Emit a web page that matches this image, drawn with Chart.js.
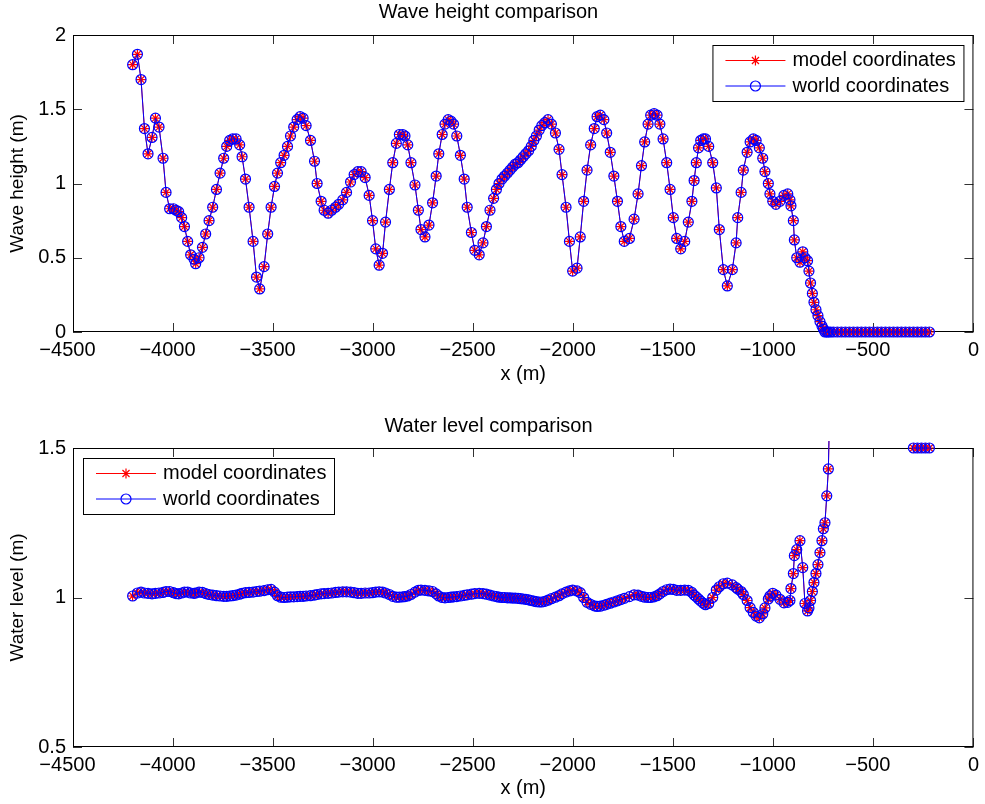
<!DOCTYPE html>
<html lang="en">
<head>
<meta charset="UTF-8">
<title>Wave height / water level comparison</title>
<script src="https://cdn.jsdelivr.net/npm/chart.js@4.4.0"></script>
<style>
  html, body { margin: 0; padding: 0; background: #fff; }
  canvas { position: absolute; left: 0; }
</style>
</head>
<body>
<canvas id="waveChart" width="985" height="400" style="top:0"></canvas>
<canvas id="levelChart" width="985" height="404" style="top:400px"></canvas>

<script>
// cross-shore position of every grid point (m)
const xGrid = [
  -4202, -4178, -4160, -4143, -4125, -4105, -4088, -4070, -4050, -4035,
  -4017, -3998, -3985, -3972, -3957, -3943, -3927, -3912, -3895, -3887,
  -3870, -3853, -3837, -3820, -3802, -3783, -3765, -3747, -3732, -3717,
  -3702, -3685, -3667, -3655, -3638, -3620, -3600, -3583, -3567, -3545,
  -3527, -3510, -3493, -3478, -3462, -3445, -3428, -3413, -3397, -3380,
  -3365, -3350, -3335, -3313, -3293, -3280, -3260, -3245, -3225, -3207,
  -3188, -3172, -3152, -3133, -3113, -3095, -3077, -3060, -3040, -3020,
  -3003, -2987, -2970, -2953, -2938, -2919, -2902, -2884, -2869, -2852,
  -2841, -2827, -2811, -2791, -2774, -2761, -2741, -2721, -2703, -2685,
  -2672, -2655, -2641, -2625, -2611, -2598, -2582, -2564, -2545, -2530,
  -2509, -2492, -2470, -2451, -2434, -2416, -2398, -2384, -2371, -2356,
  -2343, -2329, -2316, -2303, -2290, -2276, -2263, -2250, -2237, -2223,
  -2210, -2197, -2184, -2170, -2157, -2142, -2126, -2109, -2089, -2071,
  -2056, -2036, -2019, -2003, -1981, -1965, -1948, -1931, -1913, -1895,
  -1881, -1865, -1847, -1833, -1815, -1797, -1779, -1762, -1745, -1719,
  -1696, -1676, -1659, -1643, -1626, -1613, -1596, -1581, -1567, -1551,
  -1533, -1516, -1500, -1483, -1463, -1443, -1425, -1407, -1396, -1385,
  -1374, -1363, -1350, -1339, -1323, -1303, -1285, -1270, -1250, -1230,
  -1205, -1186, -1178, -1161, -1150, -1131, -1116, -1100, -1086, -1070,
  -1053, -1042, -1025, -1017, -1003, -987, -967, -947, -928, -917,
  -912, -900, -895, -883, -867, -853, -842, -829, -822, -814,
  -805, -797, -787, -777, -767, -757, -750, -742, -733, -725,
  -715, -700, -680, -660, -640, -620, -600, -580, -560, -540,
  -520, -500, -480, -460, -440, -420, -400, -380, -360, -340,
  -320, -300, -280, -260, -240, -220
];

// wave height (m)
const waveHeight = [
  1.80, 1.87, 1.70, 1.37, 1.20, 1.31, 1.44, 1.38, 1.17, 0.94,
  0.83, 0.83, 0.82, 0.81, 0.77, 0.71, 0.61, 0.52, 0.49, 0.46,
  0.50, 0.57, 0.66, 0.75, 0.84, 0.96, 1.07, 1.17, 1.25, 1.29,
  1.30, 1.30, 1.26, 1.18, 1.03, 0.84, 0.61, 0.37, 0.29, 0.44,
  0.66, 0.84, 0.98, 1.07, 1.14, 1.19, 1.25, 1.32, 1.38, 1.43,
  1.45, 1.44, 1.39, 1.29, 1.15, 1.00, 0.88, 0.82, 0.80, 0.82,
  0.84, 0.86, 0.89, 0.94, 1.01, 1.06, 1.08, 1.08, 1.04, 0.92,
  0.75, 0.56, 0.45, 0.53, 0.74, 0.96, 1.14, 1.27, 1.33, 1.33,
  1.32, 1.26, 1.14, 0.99, 0.82, 0.69, 0.64, 0.72, 0.87, 1.05,
  1.20, 1.33, 1.40, 1.43, 1.42, 1.40, 1.32, 1.19, 1.03, 0.84,
  0.67, 0.55, 0.52, 0.60, 0.71, 0.82, 0.90, 0.96, 1.00, 1.03,
  1.05, 1.07, 1.09, 1.11, 1.13, 1.14, 1.16, 1.18, 1.20, 1.22,
  1.25, 1.29, 1.32, 1.36, 1.39, 1.41, 1.43, 1.40, 1.34, 1.23,
  1.06, 0.84, 0.61, 0.41, 0.43, 0.64, 0.88, 1.09, 1.26, 1.37,
  1.45, 1.46, 1.43, 1.34, 1.21, 1.05, 0.88, 0.71, 0.61, 0.63,
  0.76, 0.93, 1.12, 1.28, 1.40, 1.46, 1.47, 1.46, 1.40, 1.30,
  1.14, 0.96, 0.77, 0.63, 0.56, 0.61, 0.74, 0.88, 1.02, 1.14,
  1.24, 1.29, 1.30, 1.30, 1.25, 1.14, 0.97, 0.69, 0.42, 0.31,
  0.42, 0.60, 0.77, 0.94, 1.09, 1.21, 1.28, 1.30, 1.29, 1.24,
  1.17, 1.08, 1.00, 0.93, 0.88, 0.86, 0.88, 0.92, 0.93, 0.89,
  0.85, 0.75, 0.62, 0.50, 0.47, 0.54, 0.50, 0.48, 0.41, 0.33,
  0.26, 0.20, 0.15, 0.11, 0.07, 0.04, 0.02, 0.00, 0.00, 0.00,
  0, 0, 0, 0, 0, 0, 0, 0, 0, 0,
  0, 0, 0, 0, 0, 0, 0, 0, 0, 0,
  0, 0, 0, 0, 0, 0
];

// water level (m); null where it lies above the plotted range
const waterLevel = [
  1.005, 1.015, 1.018, 1.015, 1.014, 1.012, 1.014, 1.015, 1.017, 1.020,
  1.020, 1.016, 1.013, 1.012, 1.015, 1.018, 1.018, 1.015, 1.014, 1.015,
  1.018, 1.017, 1.013, 1.010, 1.008, 1.006, 1.005, 1.004, 1.004, 1.005,
  1.006, 1.008, 1.011, 1.014, 1.016, 1.017, 1.018, 1.020, 1.021, 1.023,
  1.026, 1.027, 1.018, 1.006, 1.001, 1.000, 1.001, 1.002, 1.002, 1.003,
  1.004, 1.004, 1.005, 1.006, 1.008, 1.010, 1.012, 1.013, 1.014, 1.015,
  1.017, 1.018, 1.019, 1.019, 1.018, 1.016, 1.014, 1.014, 1.015, 1.015,
  1.016, 1.018, 1.019, 1.018, 1.015, 1.010, 1.004, 1.001, 1.001, 1.002,
  1.003, 1.005, 1.010, 1.018, 1.024, 1.025, 1.024, 1.022, 1.020, 1.012,
  1.005, 1.000, 0.999, 1.000, 1.001, 1.002, 1.003, 1.005, 1.007, 1.009,
  1.011, 1.013, 1.014, 1.013, 1.011, 1.008, 1.005, 1.003, 1.001, 1.000,
  1.000, 0.999, 0.999, 0.998, 0.998, 0.997, 0.996, 0.995, 0.994, 0.992,
  0.990, 0.988, 0.986, 0.985, 0.985, 0.987, 0.991, 0.996, 1.001, 1.006,
  1.012, 1.018, 1.022, 1.025, 1.022, 1.016, 1.000, 0.984, 0.977, 0.972,
  0.970, 0.971, 0.974, 0.977, 0.981, 0.985, 0.989, 0.993, 0.997, 1.003,
  1.009, 1.008, 1.004, 1.001, 1.000, 1.000, 1.002, 1.006, 1.012, 1.020,
  1.026, 1.028, 1.027, 1.024, 1.024, 1.025, 1.024, 1.017, 1.008, 1.002,
  0.995, 0.988, 0.981, 0.976, 0.980, 1.000, 1.025, 1.036, 1.046, 1.048,
  1.042, 1.033, 1.028, 1.020, 1.010, 0.990, 0.966, 0.950, 0.938, 0.932,
  0.945, 0.965, 0.995, 1.005, 1.014, 1.008, 0.994, 0.982, 0.984, 0.990,
  1.030, 1.080, 1.140, 1.160, 1.190, 1.100, 0.980, 0.955, 0.965, 0.990,
  1.020, 1.050, 1.080, 1.110, 1.150, 1.190, 1.230, 1.250, 1.340, 1.430,
  1.750, null, null, null, null, null, null, null, null, null,
  null, null, null, null, null, null, null, null, null, null,
  null, 1.5, 1.5, 1.5, 1.5, 1.5
];

const xTicks = [-4500, -4000, -3500, -3000, -2500, -2000, -1500, -1000, -500, 0];
const heightTicks = [0, 0.5, 1, 1.5, 2];
const levelTicks = [0.5, 1, 1.5];
const seriesNames = ['model coordinates', 'world coordinates'];

const FONT = '"Liberation Sans", Arial, Helvetica, sans-serif';
Chart.defaults.font.family = FONT;
Chart.defaults.font.size = 20;
Chart.defaults.color = '#000';

// MATLAB-like box with inward ticks on all four sides
const boxAxes = {
  id: 'boxAxes',
  beforeDatasetsDraw(chart) {
    const { ctx, chartArea: a, scales } = chart;
    const len = 9;
    ctx.save();
    ctx.lineWidth = 1;
    ctx.strokeStyle = '#333';
    ctx.beginPath();
    scales.x.ticks.forEach(t => {
      const p = Math.round(scales.x.getPixelForValue(t.value)) + 0.5;
      ctx.moveTo(p, a.bottom); ctx.lineTo(p, a.bottom - len);
      ctx.moveTo(p, a.top); ctx.lineTo(p, a.top + len);
    });
    scales.y.ticks.forEach(t => {
      const p = Math.round(scales.y.getPixelForValue(t.value)) + 0.5;
      ctx.moveTo(a.left, p); ctx.lineTo(a.left + len, p);
      ctx.moveTo(a.right, p); ctx.lineTo(a.right - len, p);
    });
    ctx.stroke();
    ctx.strokeStyle = '#000';
    ctx.strokeRect(a.left + 0.5, a.top + 0.5, a.right - a.left - 1, a.bottom - a.top - 1);
    ctx.restore();
  }
};

// legend drawn inside the axes, with line + marker samples
const boxLegend = {
  id: 'boxLegend',
  afterDatasetsDraw(chart, args, opts) {
    const { ctx, chartArea: a } = chart;
    const w = 251, h = 56;
    const left = opts.corner === 'ne' ? a.right - 10 - w : a.left + 10;
    const top = a.top + 10;
    ctx.save();
    ctx.fillStyle = '#fff';
    ctx.fillRect(left, top, w, h);
    ctx.lineWidth = 1;
    ctx.strokeStyle = '#000';
    ctx.strokeRect(left + 0.5, top + 0.5, w, h);
    ctx.font = '20px ' + FONT;
    ctx.textBaseline = 'middle';
    ctx.textAlign = 'left';
    chart.data.datasets.forEach((ds, i) => {
      const y = top + 15.5 + i * 25.5;
      ctx.strokeStyle = ds.borderColor;
      ctx.lineWidth = 1;
      ctx.beginPath();
      ctx.moveTo(left + 13, y);
      ctx.lineTo(left + 73, y);
      ctx.stroke();
      ctx.fillStyle = 'rgba(0,0,0,0)';
      ctx.strokeStyle = ds.pointBorderColor;
      ctx.lineWidth = ds.pointBorderWidth;
      Chart.helpers.drawPoint(ctx, {
        pointStyle: ds.pointStyle, radius: ds.pointRadius,
        rotation: 0, borderWidth: ds.pointBorderWidth
      }, left + 43, y);
      ctx.fillStyle = '#000';
      ctx.fillText(ds.label, left + 80, y);
    });
    ctx.restore();
  }
};

const fmtX = v => v < 0 ? '\u2212' + (-v) + '\u2007' : String(v);

function makeChart(id, p) {
  const pts = p.values.map((v, i) => ({ x: xGrid[i], y: v }));
  const common = {
    data: pts,
    borderWidth: 1,
    tension: 0,
    pointRadius: 5,
    pointBorderWidth: 1.2,
    pointBackgroundColor: 'rgba(0,0,0,0)',
    clip: p.clip
  };
  return new Chart(document.getElementById(id), {
    type: 'line',
    data: {
      datasets: [
        Object.assign({}, common, {
          label: seriesNames[0], borderColor: '#ff0000', pointBorderColor: '#ff0000',
          pointStyle: 'star', order: 1
        }),
        Object.assign({}, common, {
          label: seriesNames[1], borderColor: '#0000ff', pointBorderColor: '#0000ff',
          pointStyle: 'circle', order: 0
        })
      ]
    },
    options: {
      responsive: false,
      animation: false,
      events: [],
      layout: { padding: { left: 0, right: 8, top: 0, bottom: 0 } },
      plugins: {
        legend: { display: false },
        tooltip: { enabled: false },
        title: {
          display: true,
          text: p.title,
          font: { size: 20, weight: 'normal', lineHeight: 1.2 },
          padding: p.titlePad
        },
        boxLegend: { corner: p.corner }
      },
      scales: {
        x: {
          type: 'linear',
          min: -4500,
          max: 0,
          afterBuildTicks: s => { s.ticks = xTicks.map(v => ({ value: v })); },
          afterFit: s => { s.height = p.xAxisHeight; },
          grid: { display: false, drawTicks: false },
          border: { display: false },
          ticks: { padding: 6, maxRotation: 0, autoSkip: false, callback: fmtX },
          title: {
            display: true, text: 'x (m)',
            font: { size: 20, lineHeight: 1.2 },
            padding: { top: 0, bottom: p.xTitleBottom }
          }
        },
        y: {
          type: 'linear',
          min: p.yTicks[0],
          max: p.yTicks[p.yTicks.length - 1],
          afterBuildTicks: s => { s.ticks = p.yTicks.map(v => ({ value: v })); },
          afterFit: s => { s.width = 73; },
          grid: { display: false, drawTicks: false },
          border: { display: false },
          ticks: { padding: 7, callback: v => String(v) },
          title: {
            display: true, text: p.yTitle,
            font: { size: 19, lineHeight: 1.2 },
            padding: { top: 6, bottom: 0 }
          }
        }
      }
    },
    plugins: [boxAxes, boxLegend]
  });
}

makeChart('waveChart', {
  values: waveHeight,
  title: 'Wave height comparison',
  titlePad: { top: 0, bottom: 11 },
  yTitle: 'Wave height (m)',
  yTicks: heightTicks,
  xAxisHeight: 68,
  xTitleBottom: 14,
  corner: 'ne',
  clip: false
});

makeChart('levelChart', {
  values: waterLevel,
  title: 'Water level comparison',
  titlePad: { top: 14, bottom: 10 },
  yTitle: 'Water level (m)',
  yTicks: levelTicks,
  xAxisHeight: 57,
  xTitleBottom: 4,
  corner: 'nw',
  clip: { left: 6, top: 7, right: 6, bottom: 6 }
});
</script>
</body>
</html>
